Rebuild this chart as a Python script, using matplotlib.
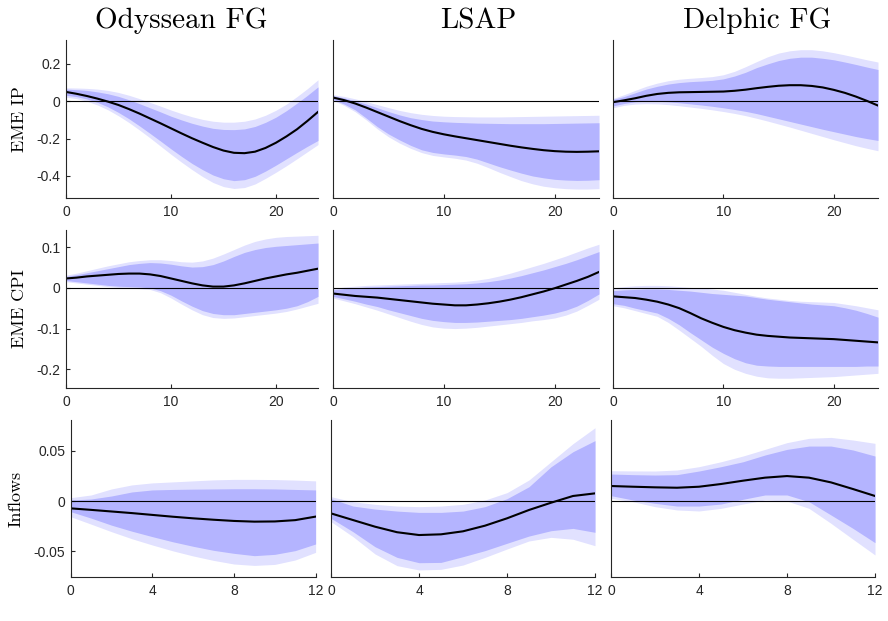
import numpy as np
import matplotlib
matplotlib.use("Agg")
import matplotlib.pyplot as plt

shocks = ["Odyssean FG", "LSAP", "Delphic FG"]
variables = ["EME IP", "EME CPI", "Inflows"]

h_month = list(range(25))
h_quarter = list(range(13))

# --- EME IP -----------------------------------------------------------------
ody_ip_med = [0.05, 0.04, 0.028, 0.014, -0.002, -0.02, -0.042, -0.066, -0.092, -0.118, -0.145, -0.172, -0.198,
              -0.222, -0.245, -0.264, -0.276, -0.278, -0.27, -0.25, -0.222, -0.188, -0.15, -0.105, -0.057]
ody_ip_hi68 = [0.065, 0.062, 0.058, 0.05, 0.04, 0.026, 0.008, -0.013, -0.035, -0.057, -0.08, -0.1, -0.118,
               -0.133, -0.145, -0.151, -0.152, -0.148, -0.135, -0.113, -0.085, -0.05, -0.01, 0.032, 0.077]
ody_ip_hi90 = [0.072, 0.071, 0.069, 0.065, 0.058, 0.047, 0.032, 0.014, -0.006, -0.026, -0.047, -0.066, -0.083,
               -0.097, -0.107, -0.112, -0.112, -0.107, -0.095, -0.075, -0.048, -0.015, 0.025, 0.068, 0.115]
ody_ip_lo68 = [0.032, 0.025, 0.012, -0.006, -0.03, -0.06, -0.094, -0.132, -0.172, -0.213, -0.255, -0.295, -0.333,
               -0.366, -0.395, -0.415, -0.425, -0.42, -0.402, -0.374, -0.342, -0.308, -0.274, -0.241, -0.21]
ody_ip_lo90 = [0.022, 0.014, 0.0, -0.02, -0.046, -0.078, -0.114, -0.154, -0.196, -0.24, -0.284, -0.326, -0.366,
               -0.403, -0.435, -0.457, -0.467, -0.462, -0.443, -0.413, -0.38, -0.345, -0.308, -0.27, -0.232]

lsap_ip_med = [0.02, 0.006, -0.012, -0.034, -0.058, -0.082, -0.106, -0.128, -0.148, -0.164, -0.177, -0.188, -0.198,
               -0.208, -0.218, -0.228, -0.238, -0.247, -0.255, -0.262, -0.267, -0.27, -0.271, -0.27, -0.268]
lsap_ip_hi68 = [0.03, 0.018, 0.002, -0.015, -0.035, -0.055, -0.073, -0.088, -0.098, -0.106, -0.11, -0.113, -0.115,
                -0.117, -0.118, -0.119, -0.12, -0.12, -0.12, -0.12, -0.119, -0.118, -0.117, -0.116, -0.115]
lsap_ip_hi90 = [0.035, 0.026, 0.013, -0.002, -0.018, -0.034, -0.049, -0.061, -0.07, -0.076, -0.08, -0.082, -0.083,
                -0.084, -0.084, -0.084, -0.083, -0.082, -0.081, -0.08, -0.079, -0.078, -0.077, -0.076, -0.075]
lsap_ip_lo68 = [0.01, -0.015, -0.046, -0.09, -0.136, -0.175, -0.207, -0.236, -0.26, -0.274, -0.282, -0.288, -0.296,
                -0.31, -0.33, -0.35, -0.368, -0.385, -0.4, -0.41, -0.418, -0.422, -0.424, -0.423, -0.42]
lsap_ip_lo90 = [0.005, -0.022, -0.056, -0.1, -0.148, -0.19, -0.224, -0.252, -0.275, -0.29, -0.298, -0.305, -0.315,
                -0.332, -0.355, -0.38, -0.403, -0.425, -0.442, -0.455, -0.463, -0.468, -0.47, -0.47, -0.468]

del_ip_med = [-0.005, 0.005, 0.016, 0.029, 0.039, 0.045, 0.048, 0.049, 0.05, 0.051, 0.052, 0.056, 0.062,
              0.07, 0.077, 0.083, 0.086, 0.086, 0.082, 0.074, 0.061, 0.045, 0.025, 0.002, -0.023]
del_ip_hi68 = [0.01, 0.025, 0.045, 0.065, 0.08, 0.092, 0.1, 0.105, 0.108, 0.112, 0.12, 0.135, 0.155,
               0.18, 0.2, 0.218, 0.23, 0.236, 0.236, 0.23, 0.222, 0.21, 0.197, 0.183, 0.17]
del_ip_hi90 = [0.015, 0.035, 0.058, 0.08, 0.097, 0.11, 0.118, 0.123, 0.127, 0.132, 0.142, 0.16, 0.185,
               0.212, 0.238, 0.258, 0.27, 0.276, 0.276, 0.27, 0.26, 0.248, 0.235, 0.222, 0.21]
del_ip_lo68 = [-0.025, -0.012, -0.003, 0.0, 0.0, -0.003, -0.008, -0.014, -0.02, -0.027, -0.035, -0.044, -0.054,
               -0.066, -0.08, -0.094, -0.108, -0.122, -0.136, -0.15, -0.163, -0.176, -0.189, -0.2, -0.21]
del_ip_lo90 = [-0.035, -0.022, -0.015, -0.013, -0.014, -0.018, -0.024, -0.031, -0.038, -0.046, -0.055, -0.065, -0.077,
               -0.091, -0.106, -0.122, -0.138, -0.155, -0.172, -0.189, -0.206, -0.222, -0.238, -0.252, -0.265]

# --- EME CPI ----------------------------------------------------------------
ody_cpi_med = [0.023, 0.025, 0.028, 0.03, 0.032, 0.034, 0.035, 0.035, 0.033, 0.029, 0.023, 0.017, 0.011,
               0.006, 0.003, 0.003, 0.006, 0.011, 0.017, 0.023, 0.028, 0.033, 0.037, 0.042, 0.047]
ody_cpi_hi68 = [0.028, 0.032, 0.037, 0.042, 0.047, 0.052, 0.057, 0.06, 0.062, 0.061, 0.058, 0.054, 0.051,
                0.052, 0.057, 0.066, 0.077, 0.087, 0.094, 0.099, 0.102, 0.104, 0.106, 0.108, 0.11]
ody_cpi_hi90 = [0.031, 0.036, 0.042, 0.048, 0.054, 0.059, 0.064, 0.067, 0.069, 0.069, 0.067, 0.064, 0.063,
                0.066, 0.073, 0.083, 0.094, 0.105, 0.114, 0.12, 0.124, 0.126, 0.127, 0.128, 0.129]
ody_cpi_lo68 = [0.018, 0.015, 0.012, 0.009, 0.006, 0.004, 0.003, 0.002, 0.0, -0.007, -0.018, -0.032, -0.045,
                -0.056, -0.063, -0.066, -0.066, -0.063, -0.06, -0.057, -0.054, -0.05, -0.044, -0.034, -0.021]
ody_cpi_lo90 = [0.015, 0.012, 0.009, 0.006, 0.003, 0.001, -0.001, -0.002, -0.004, -0.012, -0.025, -0.04, -0.054,
                -0.066, -0.073, -0.075, -0.074, -0.071, -0.068, -0.065, -0.062, -0.058, -0.052, -0.045, -0.038]

lsap_cpi_med = [-0.014, -0.017, -0.02, -0.022, -0.024, -0.027, -0.03, -0.033, -0.036, -0.039, -0.041, -0.043, -0.043,
                -0.041, -0.038, -0.034, -0.029, -0.023, -0.016, -0.009, -0.001, 0.008, 0.017, 0.027, 0.039]
lsap_cpi_hi68 = [-0.005, -0.002, 0.0, 0.002, 0.003, 0.004, 0.005, 0.006, 0.007, 0.007, 0.008, 0.009, 0.01,
                 0.012, 0.015, 0.019, 0.024, 0.03, 0.037, 0.044, 0.052, 0.06, 0.069, 0.079, 0.089]
lsap_cpi_hi90 = [-0.002, 0.002, 0.004, 0.006, 0.007, 0.008, 0.009, 0.01, 0.011, 0.012, 0.013, 0.014, 0.016,
                 0.019, 0.023, 0.029, 0.036, 0.044, 0.052, 0.06, 0.069, 0.078, 0.088, 0.098, 0.107]
lsap_cpi_lo68 = [-0.021, -0.027, -0.033, -0.04, -0.046, -0.054, -0.061, -0.068, -0.075, -0.08, -0.083, -0.085, -0.085,
                 -0.084, -0.082, -0.08, -0.078, -0.075, -0.071, -0.067, -0.062, -0.055, -0.045, -0.031, -0.015]
lsap_cpi_lo90 = [-0.025, -0.032, -0.039, -0.047, -0.055, -0.064, -0.073, -0.082, -0.09, -0.096, -0.099, -0.1, -0.099,
                 -0.097, -0.094, -0.091, -0.088, -0.085, -0.081, -0.078, -0.074, -0.067, -0.057, -0.043, -0.028]

del_cpi_med = [-0.021, -0.023, -0.025, -0.029, -0.034, -0.041, -0.05, -0.062, -0.075, -0.086, -0.096, -0.104, -0.11,
               -0.115, -0.118, -0.12, -0.122, -0.123, -0.124, -0.125, -0.126, -0.128, -0.13, -0.132, -0.134]
del_cpi_hi68 = [-0.007, -0.005, -0.004, -0.003, -0.003, -0.004, -0.006, -0.008, -0.011, -0.014, -0.016, -0.018, -0.02,
                -0.024, -0.028, -0.031, -0.034, -0.037, -0.04, -0.042, -0.044, -0.049, -0.055, -0.063, -0.072]
del_cpi_hi90 = [0.0, 0.003, 0.005, 0.006, 0.006, 0.005, 0.003, 0.001, 0.0, -0.003, -0.006, -0.011, -0.016,
                -0.021, -0.025, -0.028, -0.031, -0.033, -0.034, -0.035, -0.036, -0.04, -0.044, -0.049, -0.054]
del_cpi_lo68 = [-0.039, -0.043, -0.05, -0.056, -0.062, -0.075, -0.091, -0.11, -0.128, -0.146, -0.161, -0.174, -0.184,
                -0.19, -0.192, -0.193, -0.193, -0.193, -0.193, -0.193, -0.193, -0.193, -0.193, -0.192, -0.192]
del_cpi_lo90 = [-0.044, -0.049, -0.056, -0.063, -0.07, -0.085, -0.104, -0.124, -0.144, -0.166, -0.186, -0.2, -0.21,
                -0.217, -0.221, -0.222, -0.222, -0.221, -0.22, -0.219, -0.218, -0.216, -0.214, -0.212, -0.21]

# --- Inflows ----------------------------------------------------------------
ody_inf_med = [-0.0073, -0.0088, -0.0104, -0.012, -0.0138, -0.0156, -0.0172, -0.0186, -0.0198, -0.0205, -0.0203,
               -0.019, -0.0155]
ody_inf_hi68 = [0.001, 0.002, 0.005, 0.009, 0.011, 0.0115, 0.0118, 0.012, 0.0122, 0.0122, 0.012, 0.0115, 0.011]
ody_inf_hi90 = [0.0033, 0.006, 0.012, 0.016, 0.018, 0.019, 0.02, 0.021, 0.0215, 0.0215, 0.0213, 0.0208, 0.02]
ody_inf_lo68 = [-0.0106, -0.017, -0.024, -0.03, -0.0354, -0.0405, -0.045, -0.049, -0.052, -0.0543, -0.053,
                -0.0493, -0.0427]
ody_inf_lo90 = [-0.0156, -0.023, -0.0305, -0.0375, -0.0437, -0.0495, -0.0546, -0.059, -0.0626, -0.064, -0.063,
                -0.0586, -0.051]

lsap_inf_med = [-0.0123, -0.0189, -0.0255, -0.031, -0.0338, -0.0331, -0.0301, -0.0245, -0.0172, -0.0089, -0.0017,
                0.005, 0.0076]
lsap_inf_hi68 = [0.0023, -0.005, -0.008, -0.01, -0.0113, -0.0113, -0.01, -0.0056, 0.0023, 0.0142, 0.034, 0.049, 0.06]
lsap_inf_hi90 = [0.0043, -0.0007, -0.0033, -0.005, -0.0056, -0.005, -0.0033, 0.001, 0.0083, 0.0209, 0.039, 0.057,
                 0.0728]
lsap_inf_lo68 = [-0.0172, -0.0305, -0.0454, -0.056, -0.0613, -0.061, -0.0553, -0.0493, -0.042, -0.0348, -0.0295,
                 -0.0272, -0.0311]
lsap_inf_lo90 = [-0.0205, -0.0354, -0.0526, -0.0642, -0.0685, -0.0679, -0.0636, -0.056, -0.0477, -0.0397, -0.0361,
                 -0.038, -0.0444]

del_inf_med = [0.0149, 0.0142, 0.0136, 0.0132, 0.0142, 0.0169, 0.0202, 0.0232, 0.0248, 0.0232, 0.0185, 0.0119, 0.005]
del_inf_hi68 = [0.0268, 0.0262, 0.0258, 0.0262, 0.0298, 0.0341, 0.039, 0.0457, 0.0513, 0.0546, 0.0546, 0.0507,
                0.0447]
del_inf_hi90 = [0.0301, 0.0299, 0.0298, 0.0308, 0.0341, 0.039, 0.0447, 0.0513, 0.058, 0.0623, 0.0632, 0.0606, 0.0573]
del_inf_lo68 = [0.0053, 0.001, -0.0023, -0.005, -0.005, -0.003, 0.0017, 0.006, 0.006, -0.0007, -0.0139, -0.0272,
                -0.0414]
del_inf_lo90 = [0.0026, -0.0007, -0.0056, -0.0089, -0.0099, -0.0073, -0.003, 0.001, 0.0, -0.0073, -0.0222, -0.038,
                -0.0536]

panels = [
    [(ody_ip_med, ody_ip_lo68, ody_ip_hi68, ody_ip_lo90, ody_ip_hi90),
     (lsap_ip_med, lsap_ip_lo68, lsap_ip_hi68, lsap_ip_lo90, lsap_ip_hi90),
     (del_ip_med, del_ip_lo68, del_ip_hi68, del_ip_lo90, del_ip_hi90)],
    [(ody_cpi_med, ody_cpi_lo68, ody_cpi_hi68, ody_cpi_lo90, ody_cpi_hi90),
     (lsap_cpi_med, lsap_cpi_lo68, lsap_cpi_hi68, lsap_cpi_lo90, lsap_cpi_hi90),
     (del_cpi_med, del_cpi_lo68, del_cpi_hi68, del_cpi_lo90, del_cpi_hi90)],
    [(ody_inf_med, ody_inf_lo68, ody_inf_hi68, ody_inf_lo90, ody_inf_hi90),
     (lsap_inf_med, lsap_inf_lo68, lsap_inf_hi68, lsap_inf_lo90, lsap_inf_hi90),
     (del_inf_med, del_inf_lo68, del_inf_hi68, del_inf_lo90, del_inf_hi90)],
]

row_ylims = [(-0.518, 0.328), (-0.246, 0.142), (-0.0755, 0.0805)]
row_yticks = [[-0.4, -0.2, 0, 0.2], [-0.2, -0.1, 0, 0.1], [-0.05, 0, 0.05]]
row_yticklabels = [["-0.4", "-0.2", "0", "0.2"], ["-0.2", "-0.1", "0", "0.1"], ["-0.05", "0", "0.05"]]

# layout in pixels (left, right, top, bottom)
W, H = 888, 621
row_px = [(40, 198), (230, 388), (420, 577)]
col_px = [[(66, 318), (333, 599), (613, 878)],
          [(66, 318), (333, 599), (613, 878)],
          [(70.7, 315.6), (331, 595), (611, 875)]]

light = "#E1E1FF"
dark = "#B4B4FF"
grey = "#262626"

fig = plt.figure(figsize=(W / 100, H / 100), dpi=100)

for r in range(3):
    top, bot = row_px[r]
    x = h_quarter if r == 2 else h_month
    for c in range(3):
        left, right = col_px[r][c]
        ax = fig.add_axes([left / W, 1 - bot / H, (right - left) / W, (bot - top) / H])
        med, lo68, hi68, lo90, hi90 = panels[r][c]
        ax.fill_between(x, lo90, hi90, color=light, lw=0)
        ax.fill_between(x, lo68, hi68, color=dark, lw=0)
        ax.axhline(0, color="black", lw=0.8)
        ax.plot(x, med, color="black", lw=1.5)
        ax.set_xlim(x[0], x[-1])
        ax.set_ylim(*row_ylims[r])
        if r == 2:
            ax.set_xticks([0, 4, 8, 12])
        else:
            ax.set_xticks([0, 10, 20])
        for s in ["top", "right"]:
            ax.spines[s].set_visible(False)
        for s in ["left", "bottom"]:
            ax.spines[s].set_color(grey)
            ax.spines[s].set_linewidth(0.8)
        ax.tick_params(direction="in", length=3, width=0.8, colors=grey, labelsize=10, pad=5)
        if c == 0:
            ax.set_yticks(row_yticks[r])
            ax.set_yticklabels(row_yticklabels[r])
            ax.tick_params(axis="y", pad=4)
        else:
            ax.set_yticks([])
        for lab in ax.get_xticklabels() + ax.get_yticklabels():
            lab.set_family("Liberation Sans")

title_x = [181, 478, 757]
for c, name in enumerate(shocks):
    fig.text(title_x[c] / W, 1 - 21 / H, name, family="cmr10", fontsize=21, ha="center", va="center")

label_x = [19, 19, 16]
for r, name in enumerate(variables):
    top, bot = row_px[r]
    fig.text(label_x[r] / W, 1 - (top + bot) / 2 / H, name, family="cmr10", fontsize=13,
             rotation=90, ha="center", va="center")

fig.savefig("out.png", dpi=100)
